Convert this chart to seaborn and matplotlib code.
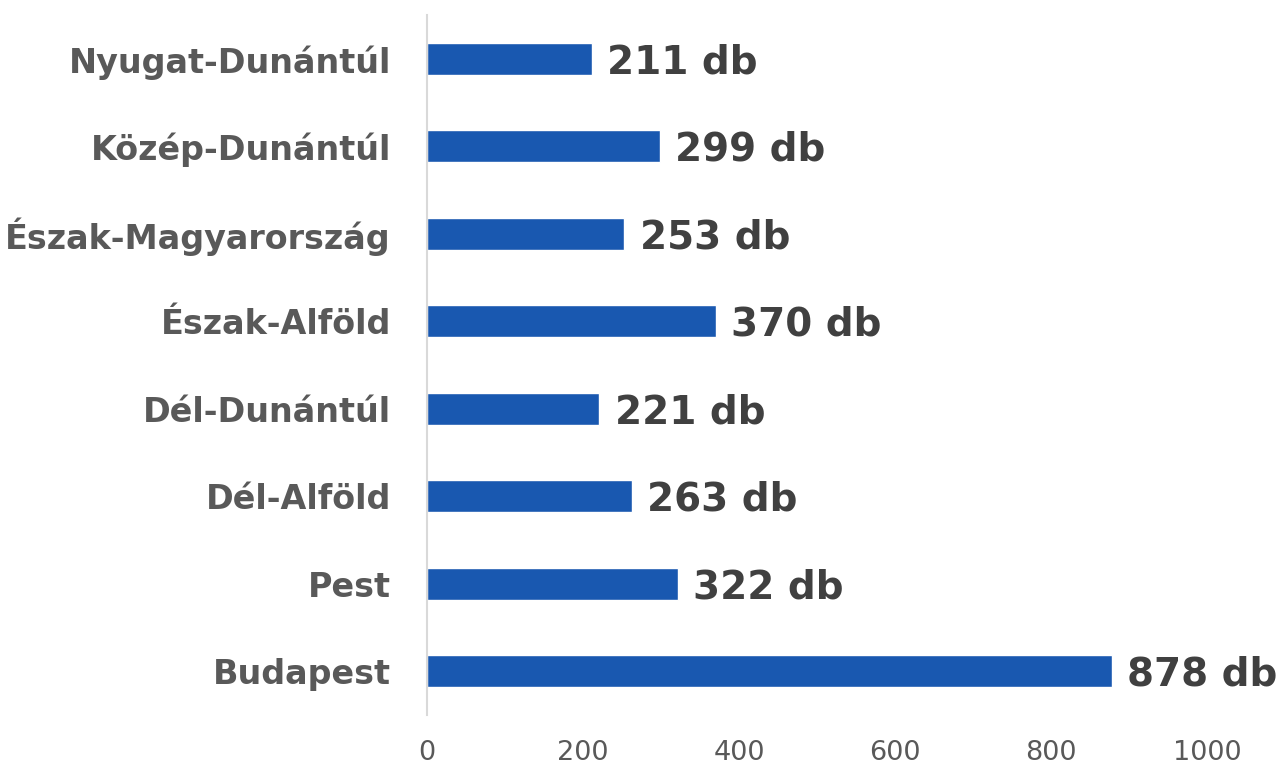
import matplotlib
matplotlib.use("Agg")
import matplotlib.pyplot as plt
import seaborn as sns
import pandas as pd

categories = ["Nyugat-Dunántúl", "Közép-Dunántúl", "Észak-Magyarország", "Észak-Alföld",
              "Dél-Dunántúl", "Dél-Alföld", "Pest", "Budapest"]
values = [211, 299, 253, 370, 221, 263, 322, 878]
xticks = [0, 200, 400, 600, 800, 1000]

sns.set_theme(style="white")
plt.rcParams['font.family'] = ['DejaVu Sans']

df = pd.DataFrame({"region": categories, "count": values})

fig = plt.figure(figsize=(12.8, 7.72), dpi=100)
ax = fig.add_axes([427/1280, 57/772, (1207-427)/1280, 700/772])

sns.barplot(data=df, x="count", y="region", order=categories, orient="h",
            color="#1958B0", width=0.37, ax=ax, saturation=1)

ax.set_xlim(0, 1000)
ax.set_ylim(7.5, -0.5)
ax.set_xticks(xticks)
ax.set_xticklabels([str(t) for t in xticks], fontsize=19.5, color="#595959")
ax.tick_params(axis="x", length=0, pad=18)
ax.tick_params(axis="y", length=0, pad=26)
for lbl in ax.get_yticklabels():
    lbl.set_fontsize(24)
    lbl.set_fontweight("bold")
    lbl.set_color("#595959")
ax.set_xlabel("")
ax.set_ylabel("")
for s in ["top", "right", "bottom"]:
    ax.spines[s].set_visible(False)
ax.spines["left"].set_color("#D9D9D9")
ax.spines["left"].set_linewidth(1.5)

for container in ax.containers:
    texts = ax.bar_label(container, labels=[f"{v} db" for v in values], padding=11,
                         fontsize=28, fontweight="bold", color="#404040", clip_on=False)
    for t in texts:
        t.xyann = (11, -2.5)

fig.savefig("out.png", dpi=100)
